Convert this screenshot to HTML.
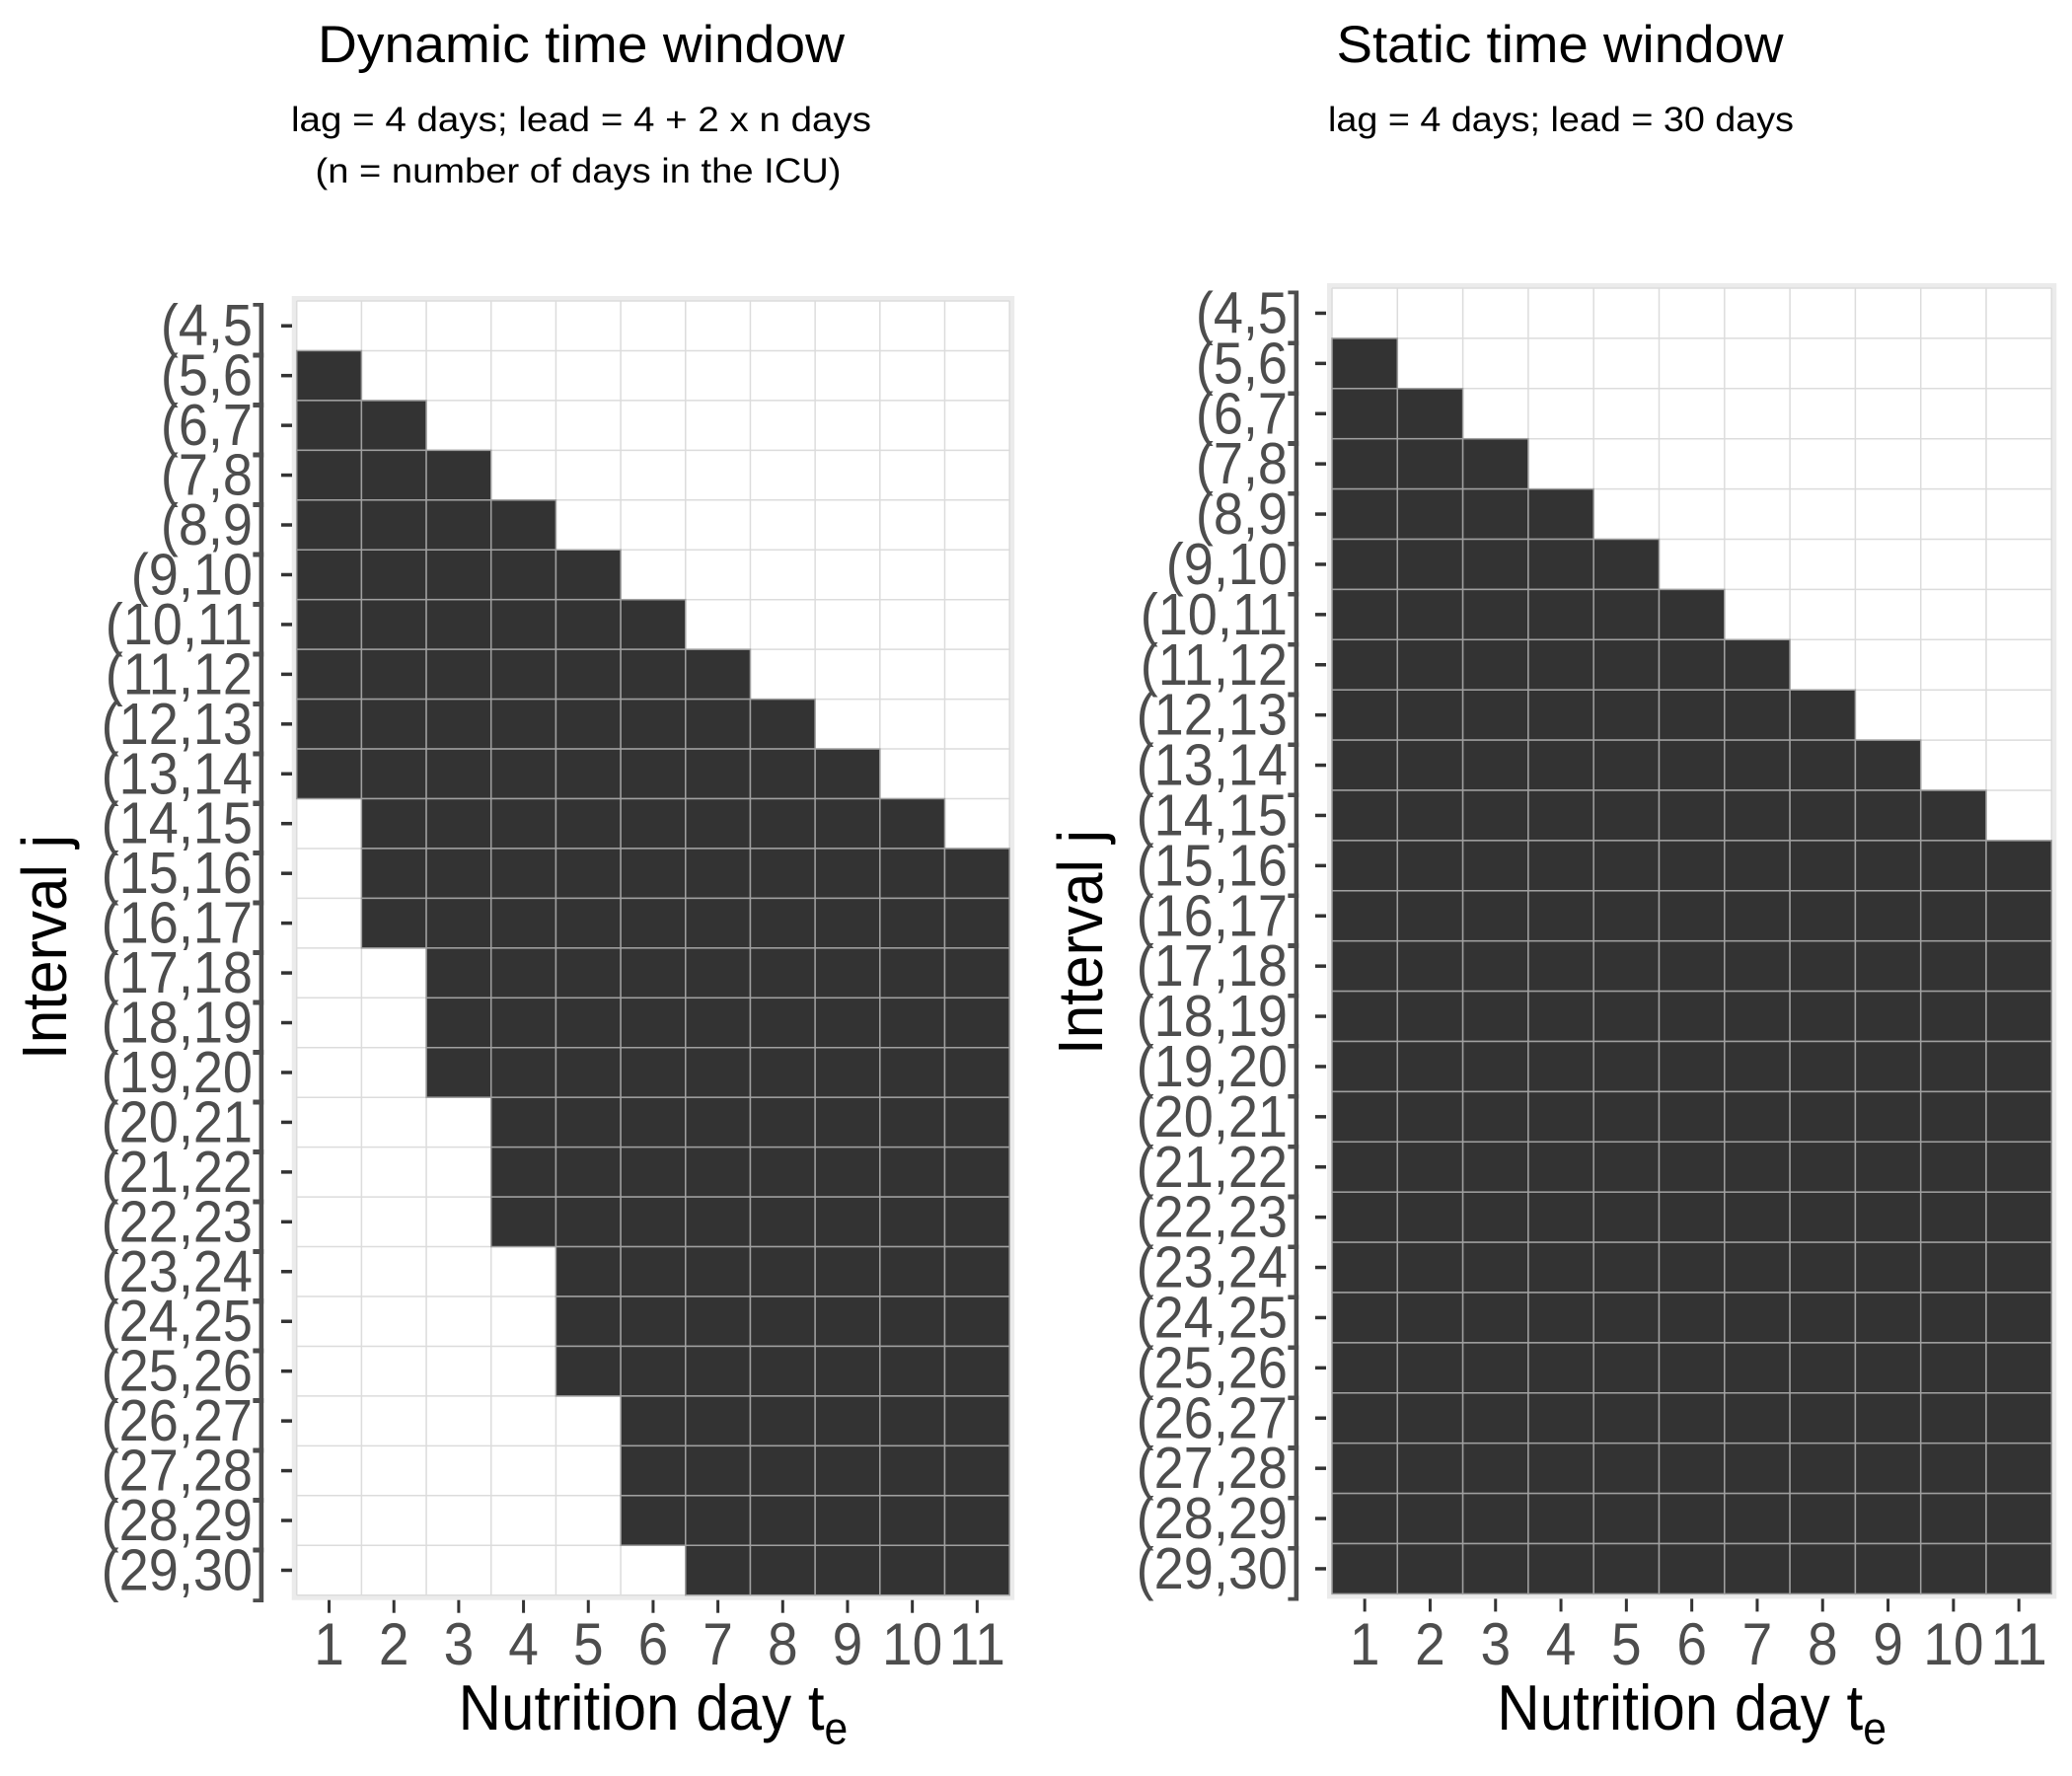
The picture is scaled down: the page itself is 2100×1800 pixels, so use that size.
<!DOCTYPE html>
<html><head><meta charset="utf-8"><style>
html,body{margin:0;padding:0;background:#fff;}
svg{display:block;font-family:"Liberation Sans",Arial,sans-serif;}
</style></head><body>
<svg id="s" xmlns="http://www.w3.org/2000/svg" width="2100" height="1800" viewBox="0 0 2100 1800"></svg>
<script>
const s=document.getElementById('s');let h='';
function panel(x0,y0,w,hh,labR,tickX,dyn){
  const W=w*11,H=hh*26;
  h+=`<rect x="${x0-5}" y="${y0-5}" width="${W+10}" height="${H+10}" fill="#ebebeb"/>`;
  h+=`<rect x="${x0}" y="${y0}" width="${W}" height="${H}" fill="#fff"/>`;
  for(let c=0;c<=11;c++)h+=`<line x1="${x0+c*w}" y1="${y0}" x2="${x0+c*w}" y2="${y0+H}" stroke="#dcdcdc" stroke-width="1.5"/>`;
  for(let r=0;r<=26;r++)h+=`<line x1="${x0}" y1="${y0+r*hh}" x2="${x0+W}" y2="${y0+r*hh}" stroke="#dcdcdc" stroke-width="1.5"/>`;
  for(let c=1;c<=11;c++){
    const st=c+4,en=dyn?Math.min(29,10+3*c):29;
    for(let j=st;j<=en;j++){const r=j-4;
      h+=`<rect x="${x0+(c-1)*w}" y="${y0+r*hh}" width="${w}" height="${hh}" fill="#333" stroke="#a0a0a0" stroke-width="1.5"/>`;}
  }
  for(let r=0;r<26;r++){const yc=y0+(r+0.5)*hh;
    h+=`<line x1="${tickX}" y1="${yc}" x2="${tickX+11}" y2="${yc}" stroke="#333" stroke-width="3.5"/>`;
    h+=`<text transform="translate(${labR},${yc+20}) scale(1.04,1.14)" font-size="52" fill="#4d4d4d" text-anchor="end">(${r+4},${r+5}]</text>`;}
  for(let c=1;c<=11;c++){const xc=x0+(c-0.5)*w;
    h+=`<line x1="${xc}" y1="${y0+H+5}" x2="${xc}" y2="${y0+H+18}" stroke="#333" stroke-width="3"/>`;
    h+=`<text transform="translate(${xc},1687) scale(1.02,1.12)" font-size="54" fill="#4d4d4d" text-anchor="middle">${c}</text>`;}
  const mx=x0+W/2;
  h+=`<text transform="translate(${mx},1753) scale(0.97,1.05)" font-size="62" fill="#000" text-anchor="middle">Nutrition day t<tspan font-size="44" dy="14">e</tspan></text>`;
}
panel(300.7,305,65.68,50.45,271,285,true);
panel(1350,292,66.3,50.9,1320,1333,false);
h+=`<text transform="translate(67,960) rotate(-90) scale(0.99,1.05)" font-size="61" text-anchor="middle">Interval j</text>`;
h+=`<text transform="translate(1117,955) rotate(-90) scale(0.99,1.05)" font-size="61" text-anchor="middle">Interval j</text>`;
h+=`<text x="589" y="63" font-size="53" text-anchor="middle" textLength="534" lengthAdjust="spacingAndGlyphs">Dynamic time window</text>`;
h+=`<text x="589" y="133" font-size="35" text-anchor="middle" textLength="588" lengthAdjust="spacingAndGlyphs">lag = 4 days; lead = 4 + 2 x n days</text>`;
h+=`<text x="586" y="185" font-size="35" text-anchor="middle" textLength="533" lengthAdjust="spacingAndGlyphs">(n = number of days in the ICU)</text>`;
h+=`<text x="1581" y="63" font-size="53" text-anchor="middle" textLength="453" lengthAdjust="spacingAndGlyphs">Static time window</text>`;
h+=`<text x="1582" y="133" font-size="35" text-anchor="middle" textLength="472" lengthAdjust="spacingAndGlyphs">lag = 4 days; lead = 30 days</text>`;
s.innerHTML=h;
</script>
</body></html>
